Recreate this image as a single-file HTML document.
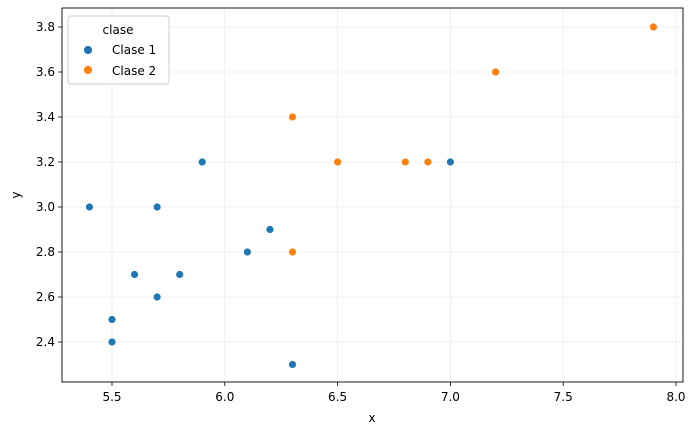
<!DOCTYPE html>
<html><head><meta charset="utf-8"><style>
body{margin:0;background:#fff;font-family:"Liberation Sans","DejaVu Sans",sans-serif}
</style></head><body>
<svg id="chart" width="696" height="435" xmlns="http://www.w3.org/2000/svg" font-family="DejaVu Sans, Liberation Sans, sans-serif">
<g id="grid"></g>
<g id="ticks"></g>
<g id="points"></g>
<rect x="62" y="8" width="621" height="374" fill="none" stroke="#000" stroke-width="0.9"/>
<text x="372" y="422" font-size="12" text-anchor="middle">x</text>
<text x="20" y="195" font-size="12" text-anchor="middle" transform="rotate(-90 20 195)">y</text>
<g>
<rect x="68" y="16" width="101" height="68" rx="3" fill="#fff" fill-opacity="0.8" stroke="#ccc"/>
<text x="118" y="34" font-size="12" text-anchor="middle">clase</text>
<circle cx="88" cy="50" r="4.5" fill="#1f77b4" stroke="#fff" stroke-width="0.8"/>
<text x="112" y="54" font-size="12">Clase 1</text>
<circle cx="88" cy="70" r="4.5" fill="#ff7f0e" stroke="#fff" stroke-width="0.8"/>
<text x="112" y="75" font-size="12">Clase 2</text>
</g>
</svg>
<script>
const xTicks=[5.5,6.0,6.5,7.0,7.5,8.0];
const xTickLabels=["5.5","6.0","6.5","7.0","7.5","8.0"];
const yTicks=[2.4,2.6,2.8,3.0,3.2,3.4,3.6,3.8];
const yTickLabels=["2.4","2.6","2.8","3.0","3.2","3.4","3.6","3.8"];
const clase1X=[5.4,5.7,5.9,7.0,6.2,6.1,5.6,5.8,5.7,5.5,5.5,6.3];
const clase1Y=[3.0,3.0,3.2,3.2,2.9,2.8,2.7,2.7,2.6,2.5,2.4,2.3];
const clase2X=[6.3,6.5,6.8,6.9,7.2,7.9,6.3];
const clase2Y=[3.4,3.2,3.2,3.2,3.6,3.8,2.8];
const NS="http://www.w3.org/2000/svg";
function sx(v){return 112+(v-5.5)*225.6;}
function sy(v){return 342-(v-2.4)*225;}
function mk(t,a,p){const e=document.createElementNS(NS,t);for(const k in a)e.setAttribute(k,a[k]);p.appendChild(e);return e;}
const grid=document.getElementById('grid'),ticks=document.getElementById('ticks'),pts=document.getElementById('points');
xTicks.forEach((v,i)=>{const x=sx(v);
 const g=mk('line',{x1:x,x2:x,y1:8,y2:382,stroke:'#ebebeb','stroke-width':0.8},grid);
 
 
 const t=mk('line',{x1:x,x2:x,y1:382,y2:386,stroke:'#000','stroke-width':0.8},ticks);
 
 
 const l=mk('text',{x:x,y:401,'font-size':12,'text-anchor':'middle'},ticks);l.textContent=xTickLabels[i];
 
 
});
yTicks.forEach((v,i)=>{const y=sy(v);
 const g=mk('line',{x1:62,x2:683,y1:y,y2:y,stroke:'#ebebeb','stroke-width':0.8},grid);
 
 
 const t=mk('line',{x1:58,x2:62,y1:y,y2:y,stroke:'#000','stroke-width':0.8},ticks);
 
 
 const l=mk('text',{x:55,y:y+4,'font-size':12,'text-anchor':'end'},ticks);l.textContent=yTickLabels[i];
 
 
});
clase1X.forEach((v,i)=>{const c=mk('circle',{cx:sx(v),cy:sy(clase1Y[i]),r:4,fill:'#1f77b4',stroke:'#fff','stroke-width':0.8},pts);
 
 });
clase2X.forEach((v,i)=>{const c=mk('circle',{cx:sx(v),cy:sy(clase2Y[i]),r:4,fill:'#ff7f0e',stroke:'#fff','stroke-width':0.8},pts);
 
 });
</script>
</body></html>
